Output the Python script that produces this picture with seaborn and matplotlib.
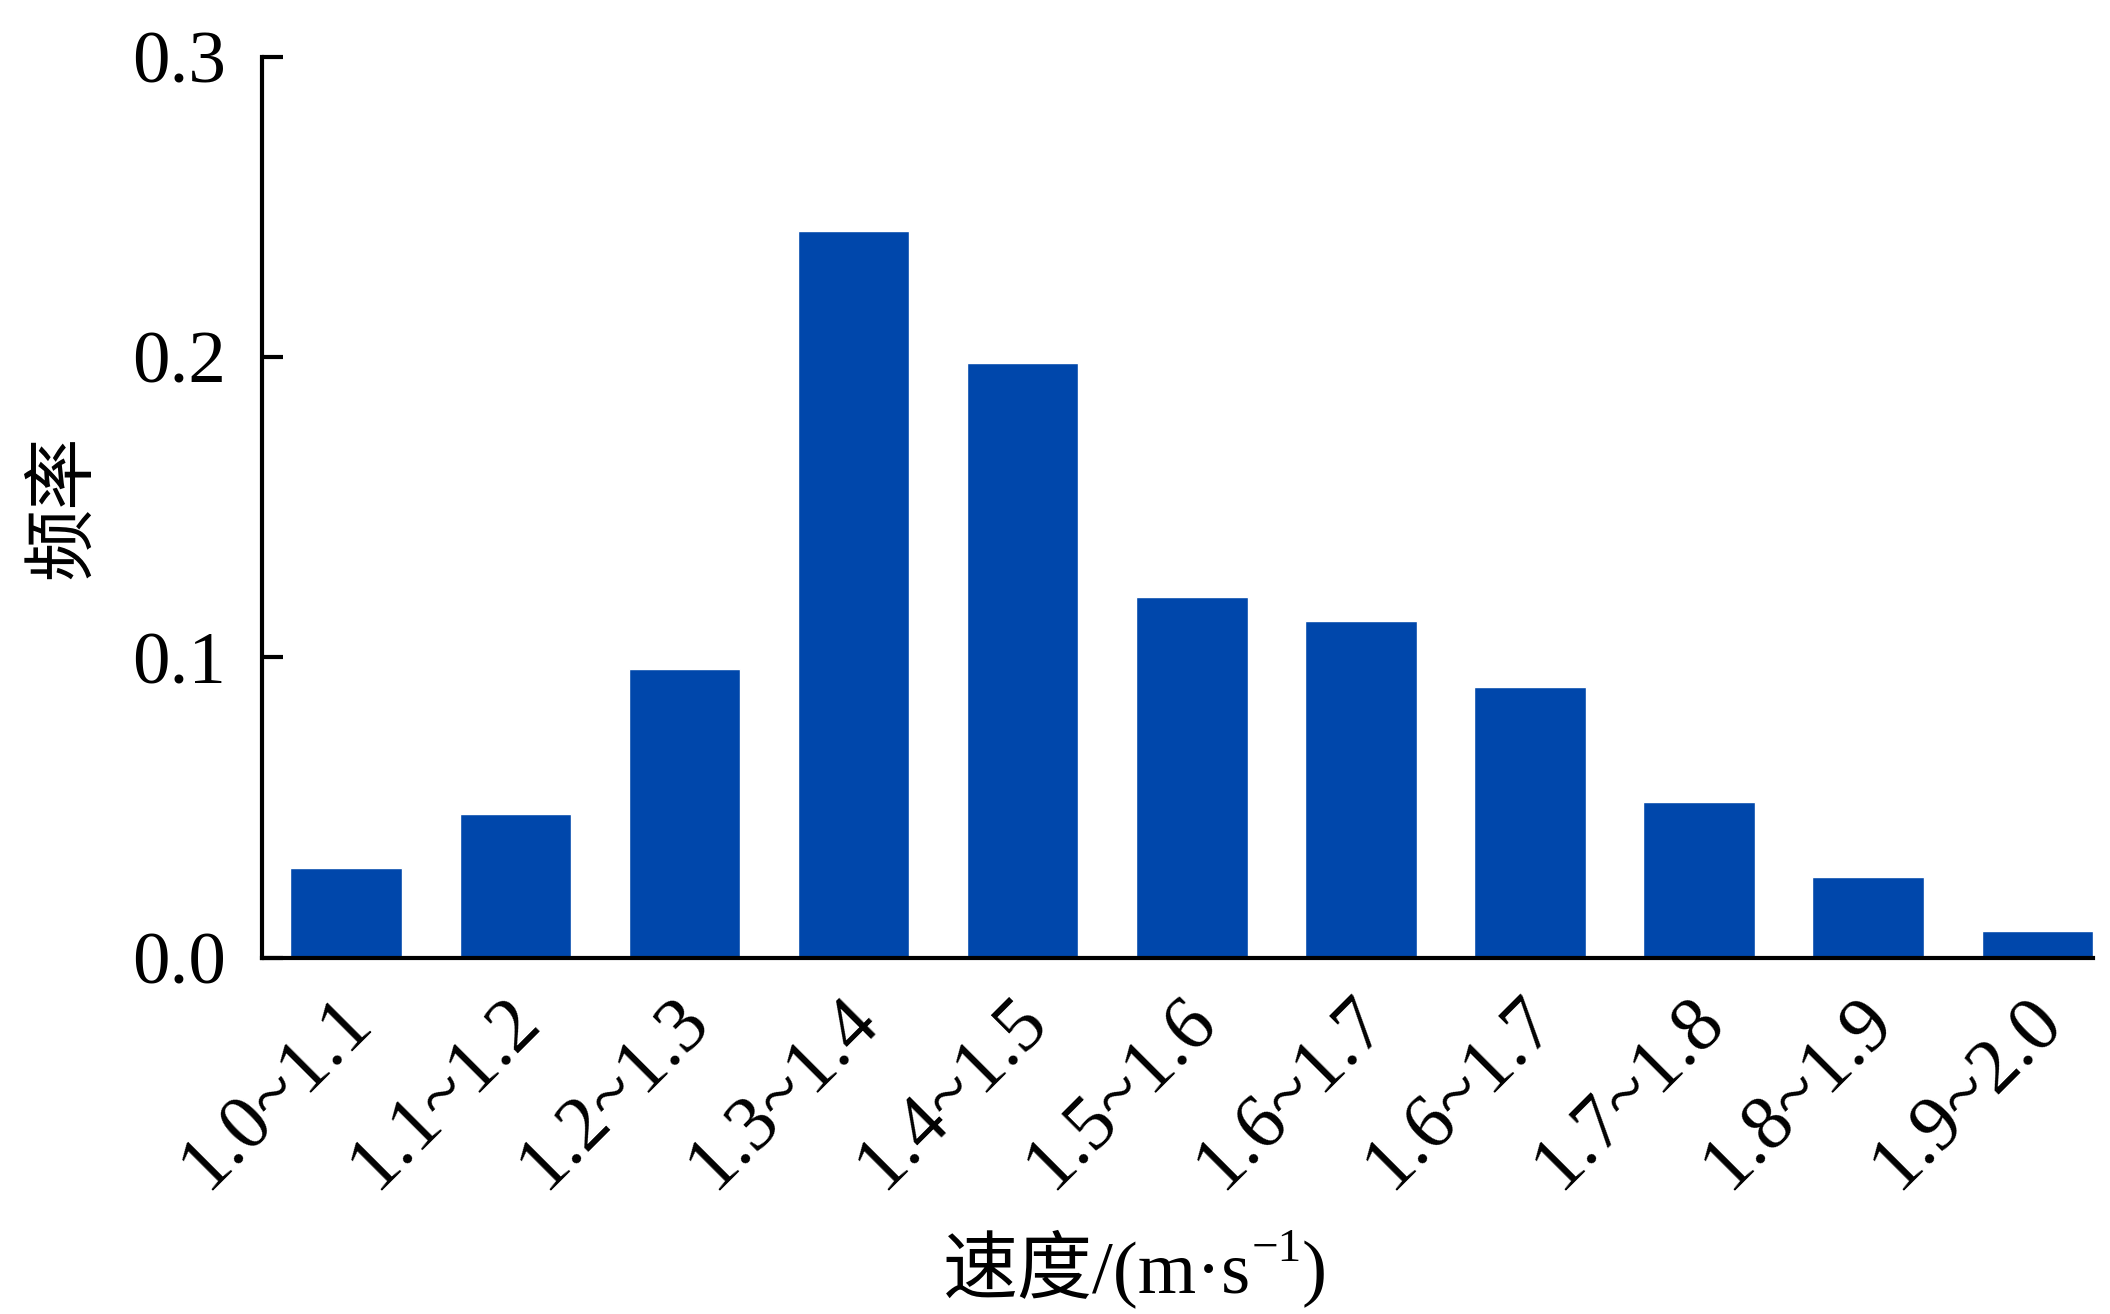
import numpy as np
import pandas as pd
import seaborn as sns
import matplotlib.pyplot as plt
import matplotlib.transforms as mtransforms

# Speed bins and their frequencies
speed_bins = ['1.0~1.1', '1.1~1.2', '1.2~1.3', '1.3~1.4', '1.4~1.5', '1.5~1.6',
              '1.6~1.7', '1.6~1.7', '1.7~1.8', '1.8~1.9', '1.9~2.0']
frequency = [0.030, 0.048, 0.096, 0.242, 0.198, 0.120, 0.112, 0.090, 0.052, 0.027, 0.009]
y_ticks = [0.0, 0.1, 0.2, 0.3]
y_tick_labels = ['0.0', '0.1', '0.2', '0.3']

sns.set_style('ticks')
plt.rcParams['font.family'] = ['Liberation Serif', 'Noto Sans CJK SC', 'DejaVu Serif']
plt.rcParams['text.color'] = 'black'
plt.rcParams['axes.labelcolor'] = 'black'
plt.rcParams['xtick.color'] = 'black'
plt.rcParams['ytick.color'] = 'black'

df = pd.DataFrame({'pos': range(len(speed_bins)), 'freq': frequency})

fig = plt.figure(figsize=(21.1, 13.14), dpi=100)
ax = fig.add_axes([0.124, 0.271, 0.868, 0.686])

sns.barplot(data=df, x='pos', y='freq', color='#0047AB', saturation=1,
            width=0.66, ax=ax)

ax.set_xlim(-0.5, 10.33)
ax.set_ylim(0, 0.3)
ax.set_yticks(y_ticks)
ax.set_yticklabels(y_tick_labels, fontsize=54)
ax.set_xticks(range(len(speed_bins)))
ax.set_xticklabels(speed_bins, fontsize=56, rotation=45, ha='right',
                   rotation_mode='anchor')

ax.tick_params(axis='y', direction='in', length=15, width=3, pad=26)
ax.tick_params(axis='x', length=0, pad=19)

# nudge rotated labels slightly left
shift = mtransforms.ScaledTranslation(-0.12, 0, fig.dpi_scale_trans)
for lbl in ax.get_xticklabels():
    lbl.set_transform(lbl.get_transform() + shift)

for side in ['top', 'right']:
    ax.spines[side].set_visible(False)
for side in ['left', 'bottom']:
    ax.spines[side].set_linewidth(3)
    ax.spines[side].set_color('black')

ax.set_ylabel('频率', fontsize=52, family=['Noto Sans CJK SC'])
ax.yaxis.set_label_coords(-0.089, 0.5)
ax.set_xlabel('')

# x label built from pieces so the superscript can be raised
base_y = 1 - 1292 / 1314
t1 = fig.text(943 / 2110, base_y, '速度/(m·s', fontsize=54, va='baseline', ha='left')
t2 = ax.annotate('−1', xy=(1, 1 - 1261 / 1314), xycoords=(t1, 'figure fraction'),
                 fontsize=34, va='baseline', ha='left', annotation_clip=False)
t3 = ax.annotate(')', xy=(1, base_y), xycoords=(t2, 'figure fraction'),
                 fontsize=54, va='baseline', ha='left', annotation_clip=False)

plt.savefig('out.png', dpi=100, facecolor='white')
